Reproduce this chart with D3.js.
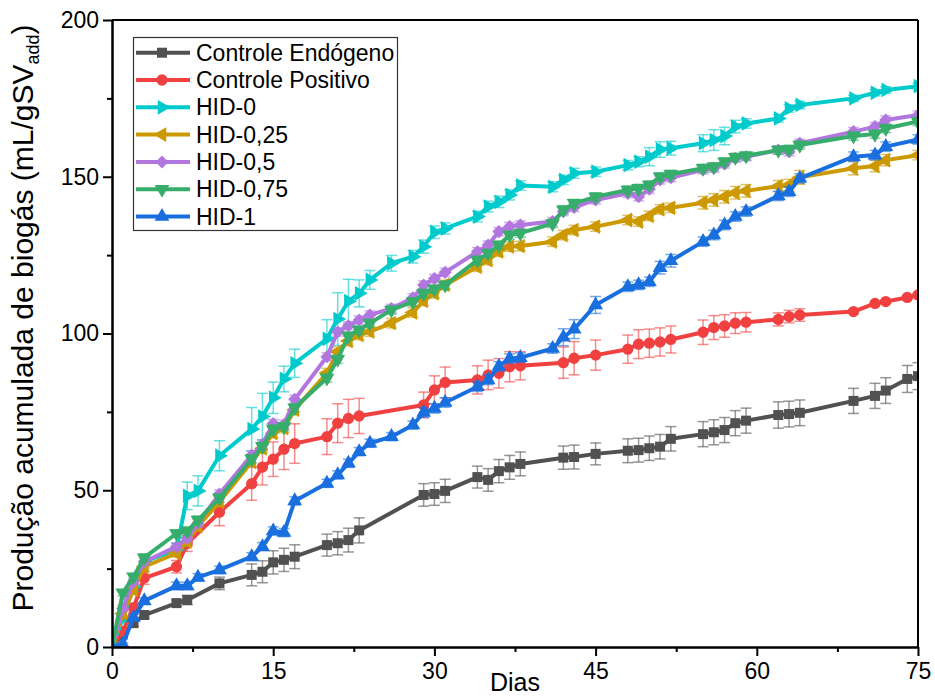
<!DOCTYPE html>
<html><head><meta charset="utf-8">
<script src="https://cdn.jsdelivr.net/npm/d3@7"></script>
<style>
html,body{margin:0;padding:0;background:#fff;}
svg{display:block;font-family:"Liberation Sans",Arial,sans-serif;}
</style></head>
<body><svg id="c" width="935" height="697"></svg>
<script>
// ---------- DATA ----------
const daysCtrl = [0,1,2,3,6,7,10,13,14,15,16,17,20,21,22,23,29,30,31,34,35,36,37,38,42,43,45,48,49,50,51,52,55,56,57,58,59,62,63,64,69,71,72,74,75];
const daysHID  = [0,1,2,3,6,7,8,10,13,14,15,16,17,20,21,22,23,24,26,28,29,30,31,34,35,36,37,38,41,42,43,45,48,49,50,51,52,55,56,57,58,59,62,63,64,69,71,72,75];

const endogeno    = [0,4,7.6,10.2,14,15,20.3,23,24,27,27.8,28.8,32.5,33.1,34.1,37.2,48.5,48.8,49.8,54.2,53.3,56.1,57.3,58.4,60.4,60.6,61.6,62.6,62.8,63.4,63.9,66.4,67.9,68.5,69.2,71.4,72.2,74.0,74.3,74.7,78.5,80.1,81.8,85.5,86.4];
const endogenoErr = [0,0.5,1,1,1,1.5,2,3.5,3.5,3.7,3.7,3.8,3.5,3.7,3.8,4,3.6,3.6,3.7,3.5,3.6,3.7,3.8,3.8,3.7,3.8,3.5,3.8,3.8,3.9,3.9,3.9,4,4,4,4,4,4.2,4.1,4.1,4,4,4.1,4.3,4.3];

const positivo    = [0,4.9,12.5,22,25.6,33,43,52.1,57.4,59.9,63.1,64.9,67.1,71.4,72.9,73.7,77.2,82.0,84.4,85.2,86.8,87.3,89.4,89.7,90.7,92.1,93.1,95.0,96.6,96.9,97.3,98.1,100.4,101.9,102.4,103.3,103.6,104.5,105.4,105.9,107.0,109.6,110.2,111.5,112.3];
const positivoErr = [0,1,1.5,2,2,2.5,4.3,5.3,5.7,5.5,6.5,6.3,5.7,6.2,6.1,5.6,4.1,4.5,4.9,4.5,4.7,4.7,4.8,4.5,5.0,5.3,4.8,4.5,4.6,4.5,4.5,4.3,3.9,3.8,3.6,3.3,3.1,2.1,2.0,2.0,0.5,0.5,0.5,0.5,0.5];

const hid0    = [0,9,19.2,27.2,31,48.2,49.8,61,69.5,73.5,79.5,85.5,90.5,98.3,104.6,110.3,112.8,117.1,122.4,124.5,127.7,132.3,133.5,137.3,140.5,142.0,144.2,147.2,146.8,149.0,151.1,151.6,153.7,154.8,156.4,158.7,159.1,160.7,161.7,163.0,166.0,167.0,168.6,171.8,172.9,175.0,176.8,177.7,178.9];
const hid0Err = [0,1,1.5,2,2,4.4,4.8,4.8,6.9,7.4,5,4.1,4.5,6.1,8.4,7,4.3,3,2.5,2,2.1,2,1.8,1.7,1.7,1.8,1.6,1.5,1.6,1.5,1.6,1.5,1.5,1.6,2.9,2.5,2.2,2.7,3.3,2.8,2,1.5,1.2,1.2,1.2,1,1,1,1];

const hid025    = [0,10.7,18.2,25.6,29.9,33.6,38.5,46.3,59.1,63.4,68.2,69.8,75.7,87.4,94.2,97.6,99.5,100.6,103.3,106.7,110.4,112.8,115.5,121.3,123.4,126.1,127.7,127.9,129.3,131.4,133.0,134.1,136.2,135.7,137.5,139.6,140.1,141.7,142.6,143.6,144.9,145.5,147.0,147.4,149.8,152.7,153.4,155.3,156.9];
const hid025Err = [0,1,1,1.2,1.2,1.5,1.5,1.5,1.5,1.5,1.5,1.5,1.5,1.5,1.5,1.5,1.5,1.5,1.5,1.5,1.5,1.5,1.5,1.5,1.5,1.5,1.5,1.5,1.5,1.5,1.5,1.5,1.5,1.5,1.5,1.5,1.5,2,2,2,2,2,1.8,1.8,2.2,2.1,1.8,1.8,1.5];

const hid05    = [0,12.3,20.8,27.2,32,34.7,39.5,48.8,61.2,64.7,71.3,71.0,79,92.6,100.5,102.5,104.3,105.9,108.0,111.4,115.5,117.5,119.5,126.1,128.2,132.5,134.1,134.6,135.7,138.9,140.2,142.6,144.7,143.6,146.0,149.0,149.7,152.2,152.7,154.1,155.9,156.4,158.5,158.0,160.7,164.4,166.0,168.1,169.7];
const hid05Err = [0,1,1,1.2,1.2,1.3,1.3,1.3,1.3,1.3,1.3,1.3,1.3,1.3,1.3,1.3,1.3,1.3,1.3,1.3,1.3,1.3,1.3,1.3,1.3,1.3,1.3,1.3,1.3,1.3,1.3,1.3,1.3,1.3,1.3,1.3,1.3,1.3,1.3,1.3,1.3,1.3,1.3,1.3,1.3,1.3,1.3,1.3,1.3];

const hid075    = [0,17.3,22.4,28.5,36.2,37,40.5,47.5,60,64,69.5,70.3,76.3,85.8,91.8,99.2,101.1,103.3,107.5,110.1,112.8,114.2,115.5,123.4,125.6,128.2,131.4,132.0,135.1,139.5,141.5,143.6,145.8,146.3,147.4,150.0,150.8,152.7,153.2,154.8,156.2,156.7,158.5,158.8,160.1,163.0,163.6,165.4,167.6];
const hid075Err = [0,1,1,1.2,1.2,1.3,1.3,1.3,1.3,1.3,1.3,1.3,1.3,1.3,1.3,1.3,1.3,1.3,1.3,1.3,1.3,1.3,1.3,1.3,1.3,1.3,1.3,1.3,1.3,1.3,1.3,1.3,1.3,1.3,1.3,1.3,1.3,1.3,1.3,1.3,1.3,1.3,1.3,1.3,1.3,1.3,1.3,1.3,1.3];

const hid1    = [0,0.8,9.4,14.7,19.5,19.5,22.2,24.6,28.8,32.0,37,36.5,46.6,52.2,54.9,58.6,62.3,65.0,67.1,70.8,74.8,76.1,78.0,83.0,85.2,89.5,92.0,92.3,95.2,98.8,101.4,109.1,114.9,115.5,116.5,121.0,123.2,129.3,131.4,134.6,137.3,138.9,143.9,145.2,149.5,156.4,156.9,159.6,161.9];
const hid1Err = [0,0.5,1,1,1.2,1.2,1.2,1.2,1.3,1.3,1.3,1.3,1.3,1.3,1.3,1.3,1.3,1.3,1.3,1.3,1.5,1.5,1.5,1.5,1.5,1.5,1.5,1.5,1.5,2.7,3.0,2.7,1.5,1.5,1.5,2,2,1.5,1.5,1.5,1.5,1.5,1.5,1.5,1.5,1.5,1.5,1.5,1.5];

const seriesNames = ["Controle Endógeno","Controle Positivo","HID-0","HID-0,25","HID-0,5","HID-0,75","HID-1"];
const xTicks = [0,15,30,45,60,75];
const xMinor = [7.5,22.5,37.5,52.5,67.5];
const yTicks = [0,50,100,150,200];
const yMinor = [25,75,125,175];

// ---------- STYLE ----------
const colors  = ["#515151","#F14040","#00CBCC","#CC9900","#B177DE","#37AD6B","#1A6FDF"];
const shapes  = ["square","circle","right","left","diamond","down","up"];
const series = [
  {days:daysCtrl, v:endogeno, e:endogenoErr},
  {days:daysCtrl, v:positivo, e:positivoErr},
  {days:daysHID, v:hid0, e:hid0Err},
  {days:daysHID, v:hid025, e:hid025Err},
  {days:daysHID, v:hid05, e:hid05Err},
  {days:daysHID, v:hid075, e:hid075Err},
  {days:daysHID, v:hid1, e:hid1Err}
].map((s,i)=>({name:seriesNames[i], color:colors[i], shape:shapes[i],
  pts:s.days.map((d,j)=>({x:d, y:s.v[j], e:s.e[j]}))}));

const svg = d3.select("#c");
const L=112, R=918, T=20, B=647;
const x = d3.scaleLinear().domain([0,75]).range([L,R]);
const y = d3.scaleLinear().domain([0,200]).range([B,T]);

function symPath(shape){
  const tri = d3.symbol().type(d3.symbolTriangle).size(95)();
  switch(shape){
    case "square": return {d:d3.symbol().type(d3.symbolSquare).size(100)(), r:0};
    case "circle": return {d:d3.symbol().type(d3.symbolCircle).size(100)(), r:0};
    case "diamond": return {d:d3.symbol().type(d3.symbolSquare).size(85)(), r:45};
    case "up": return {d:tri, r:0};
    case "down": return {d:tri, r:180};
    case "right": return {d:tri, r:90};
    case "left": return {d:tri, r:-90};
  }
}

svg.append("defs").append("clipPath").attr("id","clip")
  .append("rect").attr("x",L).attr("y",T).attr("width",R-L).attr("height",B-T);

const plot = svg.append("g").attr("clip-path","url(#clip)");
const line = d3.line().x(d=>x(d.x)).y(d=>y(d.y));

series.forEach(s=>{
  const g = plot.append("g");
  const eb = g.append("g").attr("stroke",s.color).attr("stroke-opacity",0.6).attr("stroke-width",1.5).attr("fill","none");
  s.pts.filter(p=>p.e>0.3).forEach(p=>{
    const cx=x(p.x), y1=y(p.y+p.e), y2=y(p.y-p.e);
    eb.append("line").attr("x1",cx).attr("x2",cx).attr("y1",y1).attr("y2",y2);
    eb.append("line").attr("x1",cx-5.5).attr("x2",cx+5.5).attr("y1",y1).attr("y2",y1);
    eb.append("line").attr("x1",cx-5.5).attr("x2",cx+5.5).attr("y1",y2).attr("y2",y2);
  });
  g.append("path").datum(s.pts).attr("d",line).attr("fill","none")
    .attr("stroke",s.color).attr("stroke-width",4).attr("stroke-linejoin","round");
  const sp = symPath(s.shape);
  g.selectAll("path.m").data(s.pts).join("path").attr("class","m")
    .attr("d",sp.d).attr("fill",s.color)
    .attr("transform",d=>`translate(${x(d.x)},${y(d.y)}) rotate(${sp.r})`);
});

// axes
const fs = 23;
const ax = svg.append("g").attr("transform",`translate(0,${B})`)
  .call(d3.axisBottom(x).tickValues(xTicks).tickSize(9).tickSizeOuter(0).tickPadding(7).tickFormat(d3.format("d")));
const axm = svg.append("g").attr("transform",`translate(0,${B})`)
  .call(d3.axisBottom(x).tickValues(xMinor).tickSize(5).tickSizeOuter(0).tickFormat(""));
const ay = svg.append("g").attr("transform",`translate(${L},0)`)
  .call(d3.axisLeft(y).tickValues(yTicks).tickSize(9).tickSizeOuter(0).tickPadding(4).tickFormat(d3.format("d")));
const aym = svg.append("g").attr("transform",`translate(${L},0)`)
  .call(d3.axisLeft(y).tickValues(yMinor).tickSize(5).tickSizeOuter(0).tickFormat(""));
[ax,axm,ay,aym].forEach(a=>{
  a.selectAll("path.domain").attr("stroke","#000").attr("stroke-width",2);
  a.selectAll(".tick line").attr("stroke","#000").attr("stroke-width",2);
  a.selectAll("text").attr("font-size",fs).attr("font-family","Liberation Sans, Arial, sans-serif").attr("fill","#000");
});
svg.append("line").attr("x1",L).attr("x2",R).attr("y1",T).attr("y2",T).attr("stroke","#000").attr("stroke-width",2);
svg.append("line").attr("x1",R).attr("x2",R).attr("y1",T).attr("y2",B).attr("stroke","#000").attr("stroke-width",2);

// axis titles
svg.append("text").attr("x",(L+R)/2).attr("y",691).attr("text-anchor","middle")
  .attr("font-size",25).text("Dias");
const yt = svg.append("text").attr("transform","translate(33,318) rotate(-90)")
  .attr("text-anchor","middle").attr("font-size",30);
yt.append("tspan").text("Produção acumulada de biogás (mL/gSV");
yt.append("tspan").attr("font-size",18).attr("dy",6).text("add");
yt.append("tspan").attr("dy",-6).text(")");

// legend
const lg = svg.append("g");
lg.append("rect").attr("x",133.5).attr("y",37.5).attr("width",264).attr("height",193)
  .attr("fill","#fff").attr("stroke","#333").attr("stroke-width",1.2);
series.forEach((s,i)=>{
  const cy = 52.7 + i*27.3;
  lg.append("line").attr("x1",136).attr("x2",190).attr("y1",cy).attr("y2",cy)
    .attr("stroke",s.color).attr("stroke-width",4);
  const sp = symPath(s.shape);
  lg.append("path").attr("d",sp.d).attr("fill",s.color)
    .attr("transform",`translate(162,${cy}) rotate(${sp.r})`);
  lg.append("text").attr("x",196).attr("y",cy).attr("dy","0.35em")
    .attr("font-size",23).attr("fill","#000").text(s.name);
});
</script></body></html>
